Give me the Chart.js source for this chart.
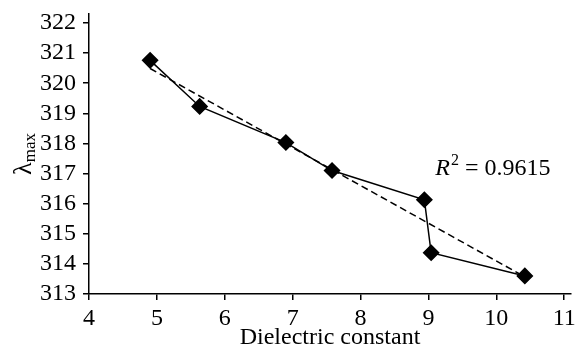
<!DOCTYPE html>
<html>
<head>
<meta charset="utf-8">
<script src="https://cdn.jsdelivr.net/npm/chart.js@4"></script>
<style>
  html, body { margin: 0; padding: 0; background: #fff; }
  #wrap { width: 580px; height: 347px; }
</style>
</head>
<body>
<div id="wrap"><canvas id="chart" width="580" height="347"></canvas></div>
<script>
const dielectric = [4.9, 5.63, 6.9, 7.58, 8.94, 9.04, 10.42];
const lambdaMax = [320.76, 319.23, 318.03, 317.1, 316.13, 314.37, 313.6];
const trendX = [4.9, 10.42];
const trendY = [320.49, 313.57];
const xTicks = [4, 5, 6, 7, 8, 9, 10, 11];
const yTicks = [313, 314, 315, 316, 317, 318, 319, 320, 321, 322];
const r2Value = '0.9615';
const xTitle = 'Dielectric constant';

const serif = '"Liberation Serif", "Times New Roman", serif';

// λmax label and R² note, drawn by hand because of sub/superscripts
const labelsPlugin = {
    id: 'labels',
    afterDraw(chart) {
        const ctx = chart.ctx;
        const area = chart.chartArea;
        ctx.save();
        ctx.fillStyle = '#000';

        // y title
        ctx.translate(31, (area.top + area.bottom) / 2);
        ctx.rotate(-Math.PI / 2);
        ctx.font = '26px ' + serif;
        const wL = ctx.measureText('λ').width;
        ctx.font = '17px ' + serif;
        const wS = ctx.measureText('max').width;
        const x0 = -(wL + wS) / 2;
        ctx.textBaseline = 'alphabetic';
        ctx.font = '26px ' + serif;
        ctx.fillText('λ', x0, 0);
        ctx.font = '17px ' + serif;
        ctx.fillText('max', x0 + wL, 4);
        ctx.setTransform(1, 0, 0, 1, 0, 0);

        // R² note
        const px = chart.scales.x.getPixelForValue(9.1);
        const py = chart.scales.y.getPixelForValue(316.94);
        let x = px;
        ctx.font = 'italic 24px ' + serif;
        ctx.fillText('R', x, py);
        x += ctx.measureText('R').width + 1;
        ctx.font = '16px ' + serif;
        ctx.fillText('2', x, py - 10);
        x += ctx.measureText('2').width;
        ctx.font = '24px ' + serif;
        ctx.fillText(' = ' + r2Value, x, py);
        ctx.restore();
    }
};

const keepTicks = (list) => (axis) => {
    axis.ticks = list.map(v => ({ value: v }));
};

new Chart(document.getElementById('chart'), {
    type: 'scatter',
    data: {
        datasets: [
            {
                data: dielectric.map((x, i) => ({ x: x, y: lambdaMax[i] })),
                showLine: true,
                borderColor: '#000',
                borderWidth: 1.5,
                backgroundColor: '#000',
                pointStyle: 'rectRot',
                pointRadius: 7.5,
                pointHoverRadius: 7.5,
                order: 1
            },
            {
                data: trendX.map((x, i) => ({ x: x, y: trendY[i] })),
                showLine: true,
                borderColor: '#000',
                borderWidth: 1.5,
                borderDash: [7, 4],
                pointRadius: 0,
                order: 2
            }
        ]
    },
    options: {
        responsive: false,
        animation: false,
        layout: { padding: { left: 0, right: 5, top: 14, bottom: 0 } },
        plugins: {
            legend: { display: false },
            tooltip: { enabled: false }
        },
        scales: {
            x: {
                type: 'linear',
                min: 4,
                max: 11.1,
                afterBuildTicks: keepTicks(xTicks),
                afterFit: (s) => { s.height = 53; s.paddingLeft = 0; s.paddingRight = 0; },
                border: { color: '#000', width: 1.5 },
                grid: { drawOnChartArea: false, drawTicks: true, tickLength: 6, color: '#000', lineWidth: 1.5 },
                ticks: { color: '#000', font: { family: serif, size: 24 }, padding: 4, maxRotation: 0, autoSkip: false },
                title: {
                    display: true,
                    text: xTitle,
                    color: '#000',
                    font: { family: serif, size: 24, lineHeight: 1 },
                    padding: { top: 0, bottom: -3 }
                }
            },
            y: {
                type: 'linear',
                min: 313,
                max: 322.3,
                afterBuildTicks: keepTicks(yTicks),
                afterFit: (s) => { s.width = 89; s.paddingTop = 0; s.paddingBottom = 0; },
                border: { color: '#000', width: 1.5 },
                grid: { drawOnChartArea: false, drawTicks: true, tickLength: 6, color: '#000', lineWidth: 1.5 },
                ticks: { color: '#000', font: { family: serif, size: 24 }, padding: 7, autoSkip: false }
            }
        }
    },
    plugins: [labelsPlugin]
});
</script>
</body>
</html>
